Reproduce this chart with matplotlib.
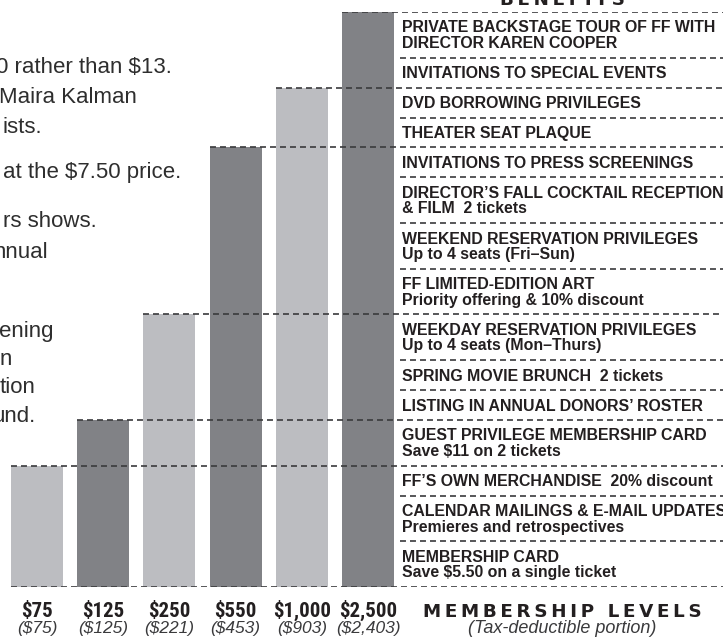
import matplotlib
matplotlib.use("Agg")
import matplotlib.pyplot as plt
from matplotlib import font_manager
from matplotlib.font_manager import FontProperties
import numpy as np

levels = ["$75", "$125", "$250", "$550", "$1,000", "$2,500"]
deductible = ["($75)", "($125)", "($221)", "($453)", "($903)", "($2,403)"]
# number of benefits (counted from the bottom of the list) each level includes
benefit_counts = [3, 4, 7, 11, 13, 15]
bar_colors = ["#bcbdc1", "#818286", "#bcbdc1", "#818286", "#bcbdc1", "#818286"]

# benefits, bottom of the list first; one entry per text line
benefits = [
    ["MEMBERSHIP CARD", "Save $5.50 on a single ticket"],
    ["CALENDAR MAILINGS & E-MAIL UPDATES", "Premieres and retrospectives"],
    ["FF\u2019S OWN MERCHANDISE  20% discount"],
    ["GUEST PRIVILEGE MEMBERSHIP CARD", "Save $11 on 2 tickets"],
    ["LISTING IN ANNUAL DONORS\u2019 ROSTER"],
    ["SPRING MOVIE BRUNCH  2 tickets"],
    ["WEEKDAY RESERVATION PRIVILEGES", "Up to 4 seats (Mon\u2013Thurs)"],
    ["FF LIMITED-EDITION ART", "Priority offering & 10% discount"],
    ["WEEKEND RESERVATION PRIVILEGES", "Up to 4 seats (Fri\u2013Sun)"],
    ["DIRECTOR\u2019S FALL COCKTAIL RECEPTION", "& FILM  2 tickets"],
    ["INVITATIONS TO PRESS SCREENINGS"],
    ["THEATER SEAT PLAQUE"],
    ["DVD BORROWING PRIVILEGES"],
    ["INVITATIONS TO SPECIAL EVENTS"],
    ["PRIVATE BACKSTAGE TOUR OF FF WITH", "DIRECTOR KAREN COOPER"],
]

# the cropped body text on the left (the page edge cuts off the start of each line)
intro_lines = ["0 rather than $13.", "Maira Kalman", "ists.", "at the $7.50 price.",
               "rs shows.", "nnual", "ening", "n", "tion", "und."]
intro_left_px = [-4, -1, 2, 3, 3, -6, -1, 0, 0, -8]
intro_base_px = [73, 103, 133, 178, 227, 258, 337, 365, 393, 422]


# --- fonts: look for a bold condensed face for the level labels ---
def find_condensed():
    cands = []
    for f in font_manager.fontManager.ttflist:
        if f.style != "normal":
            continue
        w = f.weight if isinstance(f.weight, int) else 400
        narrow = ("Narrow" in f.name or "Condensed" in f.name or
                  f.stretch in ("condensed", "semi-condensed", "extra-condensed"))
        if narrow and w >= 600:
            rank = 0 if "Liberation" in f.name else (1 if "Roboto" in f.name else 2)
            cands.append((rank, f.fname))
    if cands:
        return FontProperties(fname=sorted(cands)[0][1]), True
    return FontProperties(family="Liberation Sans", weight="bold"), False


cond_fp, cond_ok = find_condensed()
INK = "#231f20"
DASH = "#3a3a3c"
plt.rcParams["lines.scale_dashes"] = False

W, H = 723, 637
fig = plt.figure(figsize=(W / 100, H / 100), dpi=100)

# chart area: baseline at 587 px, top of benefit list at 12 px
ax = fig.add_axes([0, (H - 587) / H, 1, (587 - 12) / H])
ax.axis("off")

row_h = np.array([0.9 + len(b) for b in benefits])
edges = np.concatenate([[0], np.cumsum(row_h)])
total = edges[-1]
bar_tops = edges[benefit_counts]

pitch = 66.2  # px between bar centres
x = np.arange(len(levels))
bw = 52 / pitch
xmin = -37 / pitch
xmax = (W - 37) / pitch
ax.set_xlim(xmin, xmax)
ax.set_ylim(0, total)

ax.bar(x, bar_tops, width=bw, color=bar_colors, zorder=1)

dash_kw = dict(colors=DASH, linewidth=1.2, linestyles=(0, (4.3, 2.9)), zorder=3)
col_x = (400 - 37) / pitch
text_x = (402 - 37) / pitch

# dashed lines at each bar top run from the bar across to the edge
for i, t in enumerate(bar_tops):
    ax.hlines(t, x[i] - bw / 2, xmax, **dash_kw)
ax.hlines(0, x[0] - bw / 2, xmax, **dash_kw)

# separators between benefits that are not bar tops
for e in edges[1:-1]:
    if not np.any(np.isclose(e, bar_tops)):
        ax.hlines(e, col_x, xmax, **dash_kw)

# benefit texts
for top, lines in zip(edges[1:], benefits):
    for k, line in enumerate(lines):
        ax.text(text_x, top - 1.3 - 0.98 * k, line, ha="left", va="baseline",
                fontsize=11.4, fontweight="bold", family="Liberation Sans",
                color=INK, zorder=4)

# level labels under the bars
lab_fp = cond_fp.copy()
lab_fp.set_size(15 if cond_ok else 12.5)
for i in range(len(levels)):
    ax.annotate(levels[i], (x[i], 0), xytext=(0, -21.4), textcoords="offset points",
                ha="center", va="baseline", fontproperties=lab_fp,
                color=INK, annotation_clip=False)
    ax.annotate(deductible[i], (x[i], 0), xytext=(0, -32.8), textcoords="offset points",
                ha="center", va="baseline", fontsize=12.5, style="italic",
                family="Liberation Sans", color="#3a3a3c", annotation_clip=False)


# column headings, letter-spaced
def spaced(s):
    return "\u2009".join(s)


col_mid = (text_x + xmax) / 2
ax.annotate(spaced("MEMBERSHIP LEVELS"), (col_mid, 0), xytext=(0, -21.4),
            textcoords="offset points", ha="center", va="baseline", fontsize=13.2,
            fontweight="heavy", family="DejaVu Sans", color=INK, annotation_clip=False)
ax.annotate("(Tax-deductible portion)", (col_mid, 0), xytext=(0, -32.8),
            textcoords="offset points", ha="center", va="baseline", fontsize=13,
            style="italic", family="Liberation Sans", color="#3a3a3c", annotation_clip=False)
ax.annotate(spaced("BENEFITS"), (col_mid, total), xytext=(0, 5),
            textcoords="offset points", ha="center", va="baseline", fontsize=13.2,
            fontweight="heavy", family="DejaVu Sans", color=INK, annotation_clip=False)

# left-hand body text, cut by the page edge
for s, xl, yb in zip(intro_lines, intro_left_px, intro_base_px):
    fig.text(xl / W, 1 - yb / H, s, ha="left", va="baseline", fontsize=16,
             family="Liberation Sans", color="#2e2e2e")

fig.savefig("out.png", dpi=100)
